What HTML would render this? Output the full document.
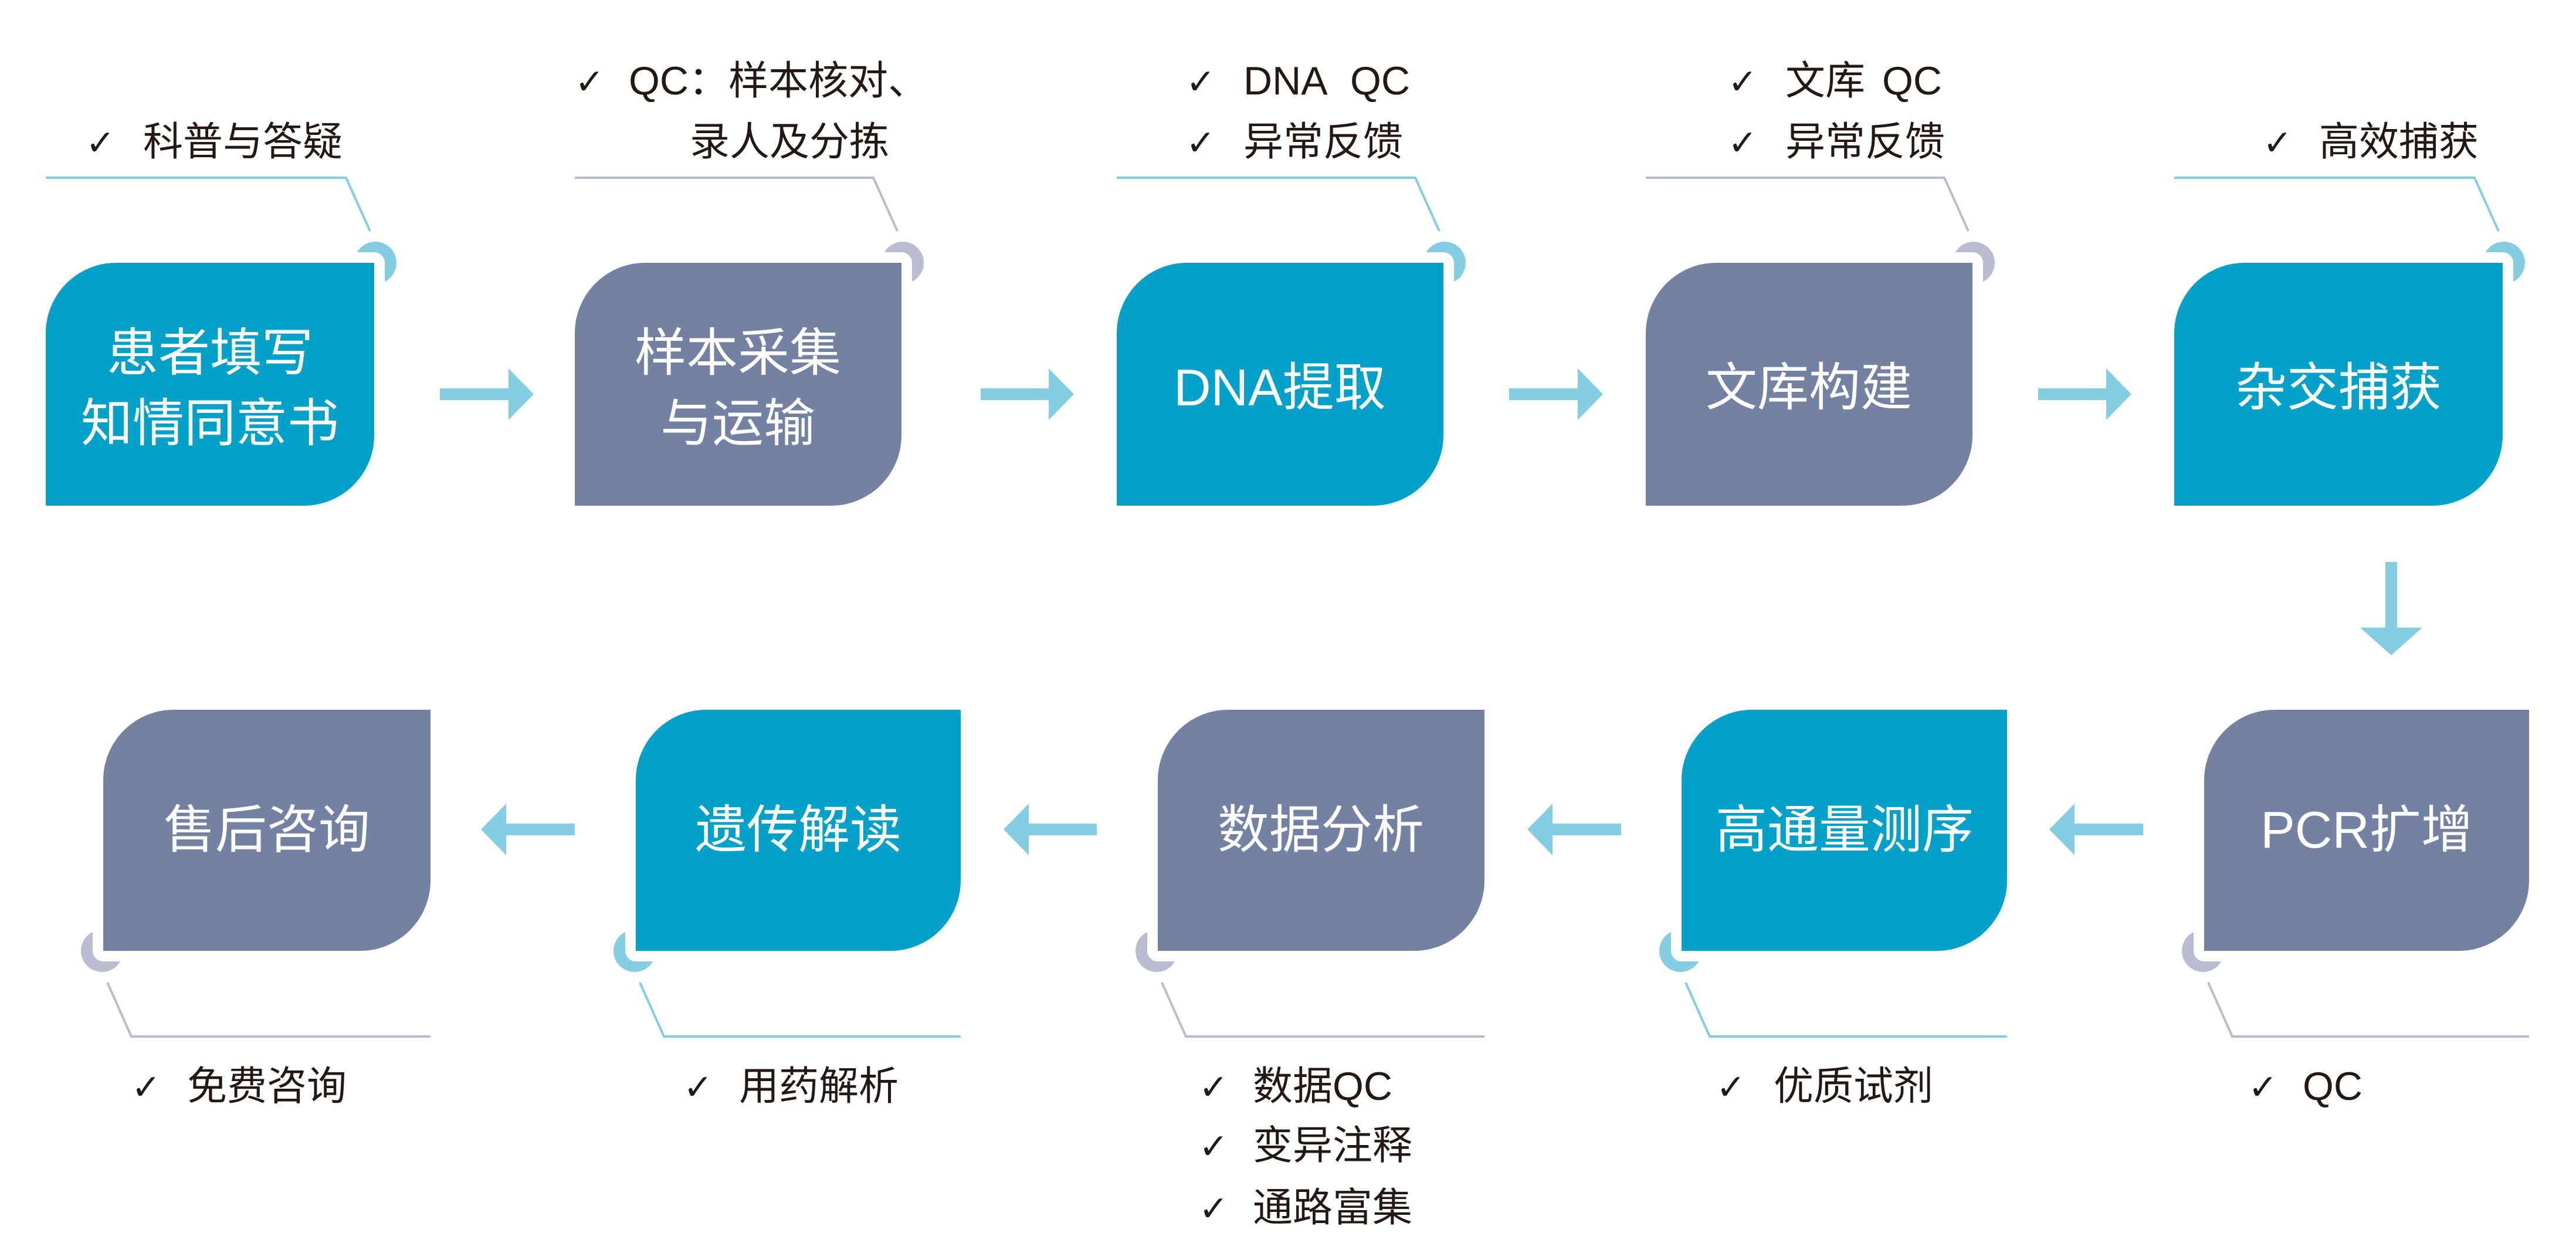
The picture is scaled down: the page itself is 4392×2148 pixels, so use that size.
<!DOCTYPE html>
<html><head><meta charset="utf-8"><style>
html,body{margin:0;padding:0;background:#fff;}
svg{display:block;}
text{font-family:"Liberation Sans","Noto Sans CJK SC","DejaVu Sans",sans-serif;}
.t{fill:#fff;font-size:88px;text-anchor:middle;}
.l{fill:#231815;font-size:68px;}
.c{fill:#231815;font-size:60px;font-family:"DejaVu Sans",sans-serif;}
</style></head><body>
<svg width="4392" height="2148" viewBox="0 0 4392 2148" xmlns="http://www.w3.org/2000/svg">
<defs>
<marker id="x" markerWidth="1" markerHeight="1"/>
</defs>
<!-- top row -->
<g id="top">
<!-- box1 -->
<polyline points="78,303 590,303 631,394" fill="none" stroke="#84cde3" stroke-width="4"/>
<circle cx="640" cy="448" r="36" fill="#84cde3"/>
<path d="M198,448 H638 V742 A120 120 0 0 1 518,862 H78 V568 A120 120 0 0 1 198,448 Z" fill="#03a0c9" stroke="#fff" stroke-width="36" stroke-linejoin="round"/>
<path d="M198,448 H638 V742 A120 120 0 0 1 518,862 H78 V568 A120 120 0 0 1 198,448 Z" fill="#03a0c9"/>
<text class="t" x="358" y="632">患者填写</text>
<text class="t" x="358" y="752">知情同意书</text>

<!-- box2 -->
<polyline points="980,303 1489,303 1530,394" fill="none" stroke="#babdd2" stroke-width="4"/>
<circle cx="1539" cy="448" r="36" fill="#babdd2"/>
<path d="M1100,448 H1537 V742 A120 120 0 0 1 1417,862 H980 V568 A120 120 0 0 1 1100,448 Z" fill="#7381a3" stroke="#fff" stroke-width="36" stroke-linejoin="round"/>
<path d="M1100,448 H1537 V742 A120 120 0 0 1 1417,862 H980 V568 A120 120 0 0 1 1100,448 Z" fill="#7381a3"/>
<text class="t" x="1258" y="632">样本采集</text>
<text class="t" x="1258" y="752">与运输</text>

<!-- box3 -->
<polyline points="1904,303 2413,303 2454,394" fill="none" stroke="#84cde3" stroke-width="4"/>
<circle cx="2463" cy="448" r="36" fill="#84cde3"/>
<path d="M2024,448 H2461 V742 A120 120 0 0 1 2341,862 H1904 V568 A120 120 0 0 1 2024,448 Z" fill="#03a0c9" stroke="#fff" stroke-width="36" stroke-linejoin="round"/>
<path d="M2024,448 H2461 V742 A120 120 0 0 1 2341,862 H1904 V568 A120 120 0 0 1 2024,448 Z" fill="#03a0c9"/>
<text class="t" x="2182" y="691">DNA提取</text>

<!-- box4 -->
<polyline points="2806,303 3315,303 3356,394" fill="none" stroke="#babdd2" stroke-width="4"/>
<circle cx="3365" cy="448" r="36" fill="#babdd2"/>
<path d="M2926,448 H3363 V742 A120 120 0 0 1 3243,862 H2806 V568 A120 120 0 0 1 2926,448 Z" fill="#7381a3" stroke="#fff" stroke-width="36" stroke-linejoin="round"/>
<path d="M2926,448 H3363 V742 A120 120 0 0 1 3243,862 H2806 V568 A120 120 0 0 1 2926,448 Z" fill="#7381a3"/>
<text class="t" x="3084" y="691">文库构建</text>

<!-- box5 -->
<polyline points="3707,303 4219,303 4260,394" fill="none" stroke="#84cde3" stroke-width="4"/>
<circle cx="4269" cy="448" r="36" fill="#84cde3"/>
<path d="M3827,448 H4267 V742 A120 120 0 0 1 4147,862 H3707 V568 A120 120 0 0 1 3827,448 Z" fill="#03a0c9" stroke="#fff" stroke-width="36" stroke-linejoin="round"/>
<path d="M3827,448 H4267 V742 A120 120 0 0 1 4147,862 H3707 V568 A120 120 0 0 1 3827,448 Z" fill="#03a0c9"/>
<text class="t" x="3987" y="691">杂交捕获</text>
</g>

<!-- bottom row: rounded TL and BR, arc at bottom-left -->
<!-- box PCR -->
<polyline points="3765,1675 3806,1767 4312,1767" fill="none" stroke="#babdd2" stroke-width="4"/>
<circle cx="3756" cy="1621" r="36" fill="#babdd2"/>
<path d="M3878,1210 H4312 V1501 A120 120 0 0 1 4192,1621 H3758 V1330 A120 120 0 0 1 3878,1210 Z" fill="#7381a3" stroke="#fff" stroke-width="36" stroke-linejoin="round"/>
<path d="M3878,1210 H4312 V1501 A120 120 0 0 1 4192,1621 H3758 V1330 A120 120 0 0 1 3878,1210 Z" fill="#7381a3"/>
<text class="t" x="4035" y="1445">PCR扩增</text>

<!-- box 高通量 -->
<polyline points="2874,1675 2915,1767 3422,1767" fill="none" stroke="#84cde3" stroke-width="4"/>
<circle cx="2865" cy="1621" r="36" fill="#84cde3"/>
<path d="M2987,1210 H3422 V1501 A120 120 0 0 1 3302,1621 H2867 V1330 A120 120 0 0 1 2987,1210 Z" fill="#03a0c9" stroke="#fff" stroke-width="36" stroke-linejoin="round"/>
<path d="M2987,1210 H3422 V1501 A120 120 0 0 1 3302,1621 H2867 V1330 A120 120 0 0 1 2987,1210 Z" fill="#03a0c9"/>
<text class="t" x="3145" y="1445">高通量测序</text>

<!-- box 数据分析 -->
<polyline points="1981,1675 2022,1767 2531,1767" fill="none" stroke="#babdd2" stroke-width="4"/>
<circle cx="1972" cy="1621" r="36" fill="#babdd2"/>
<path d="M2094,1210 H2531 V1501 A120 120 0 0 1 2411,1621 H1974 V1330 A120 120 0 0 1 2094,1210 Z" fill="#7381a3" stroke="#fff" stroke-width="36" stroke-linejoin="round"/>
<path d="M2094,1210 H2531 V1501 A120 120 0 0 1 2411,1621 H1974 V1330 A120 120 0 0 1 2094,1210 Z" fill="#7381a3"/>
<text class="t" x="2252" y="1445">数据分析</text>

<!-- box 遗传解读 -->
<polyline points="1091,1675 1132,1767 1638,1767" fill="none" stroke="#84cde3" stroke-width="4"/>
<circle cx="1082" cy="1621" r="36" fill="#84cde3"/>
<path d="M1204,1210 H1638 V1501 A120 120 0 0 1 1518,1621 H1084 V1330 A120 120 0 0 1 1204,1210 Z" fill="#03a0c9" stroke="#fff" stroke-width="36" stroke-linejoin="round"/>
<path d="M1204,1210 H1638 V1501 A120 120 0 0 1 1518,1621 H1084 V1330 A120 120 0 0 1 1204,1210 Z" fill="#03a0c9"/>
<text class="t" x="1361" y="1445">遗传解读</text>

<!-- box 售后咨询 -->
<polyline points="183,1675 224,1767 734,1767" fill="none" stroke="#babdd2" stroke-width="4"/>
<circle cx="174" cy="1621" r="36" fill="#babdd2"/>
<path d="M296,1210 H734 V1501 A120 120 0 0 1 614,1621 H176 V1330 A120 120 0 0 1 296,1210 Z" fill="#7381a3" stroke="#fff" stroke-width="36" stroke-linejoin="round"/>
<path d="M296,1210 H734 V1501 A120 120 0 0 1 614,1621 H176 V1330 A120 120 0 0 1 296,1210 Z" fill="#7381a3"/>
<text class="t" x="455" y="1445">售后咨询</text>

<!-- arrows right -->
<g fill="#84cde3">
<polygon points="750,662 867,662 867,628 910,672 867,716 867,682 750,682"/>
<polygon points="1672,662 1788,662 1788,628 1831,672 1788,716 1788,682 1672,682"/>
<polygon points="2573,662 2690,662 2690,628 2733,672 2690,716 2690,682 2573,682"/>
<polygon points="3475,662 3591,662 3591,628 3634,672 3591,716 3591,682 3475,682"/>
<!-- down -->
<polygon points="4067,958 4087,958 4087,1070 4130,1070 4077,1117 4024,1070 4067,1070"/>
<!-- left -->
<polygon points="980,1404 863,1404 863,1370 820,1414 863,1458 863,1424 980,1424"/>
<polygon points="1870,1404 1754,1404 1754,1370 1711,1414 1754,1458 1754,1424 1870,1424"/>
<polygon points="2764,1404 2647,1404 2647,1370 2604,1414 2647,1458 2647,1424 2764,1424"/>
<polygon points="3654,1404 3537,1404 3537,1370 3494,1414 3537,1458 3537,1424 3654,1424"/>
</g>

<!-- top labels -->
<text class="c" x="146" y="264">✓</text><text class="l" x="244" y="265">科普与答疑</text>
<text class="c" x="980" y="160">✓</text><text class="l" x="1072" y="161">QC：样本核对、</text>
<text class="l" x="1176" y="265">录人及分拣</text>
<text class="c" x="2022" y="160">✓</text><text class="l" x="2120" y="161">DNA</text><text class="l" x="2302" y="161">QC</text>
<text class="c" x="2022" y="264">✓</text><text class="l" x="2120" y="265">异常反馈</text>
<text class="c" x="2946" y="160">✓</text><text class="l" x="3044" y="161">文库</text><text class="l" x="3209" y="161">QC</text>
<text class="c" x="2946" y="264">✓</text><text class="l" x="3044" y="265">异常反馈</text>
<text class="c" x="3858" y="264">✓</text><text class="l" x="3954" y="265">高效捕获</text>

<!-- bottom labels -->
<text class="c" x="224" y="1874">✓</text><text class="l" x="319" y="1875">免费咨询</text>
<text class="c" x="1165" y="1874">✓</text><text class="l" x="1260" y="1875">用药解析</text>
<text class="c" x="2044" y="1874">✓</text><text class="l" x="2136" y="1875">数据QC</text>
<text class="c" x="2044" y="1975">✓</text><text class="l" x="2136" y="1976">变异注释</text>
<text class="c" x="2044" y="2081">✓</text><text class="l" x="2136" y="2082">通路富集</text>
<text class="c" x="2926" y="1874">✓</text><text class="l" x="3024" y="1875">优质试剂</text>
<text class="c" x="3833" y="1874">✓</text><text class="l" x="3926" y="1875">QC</text>
</svg>
</body></html>
